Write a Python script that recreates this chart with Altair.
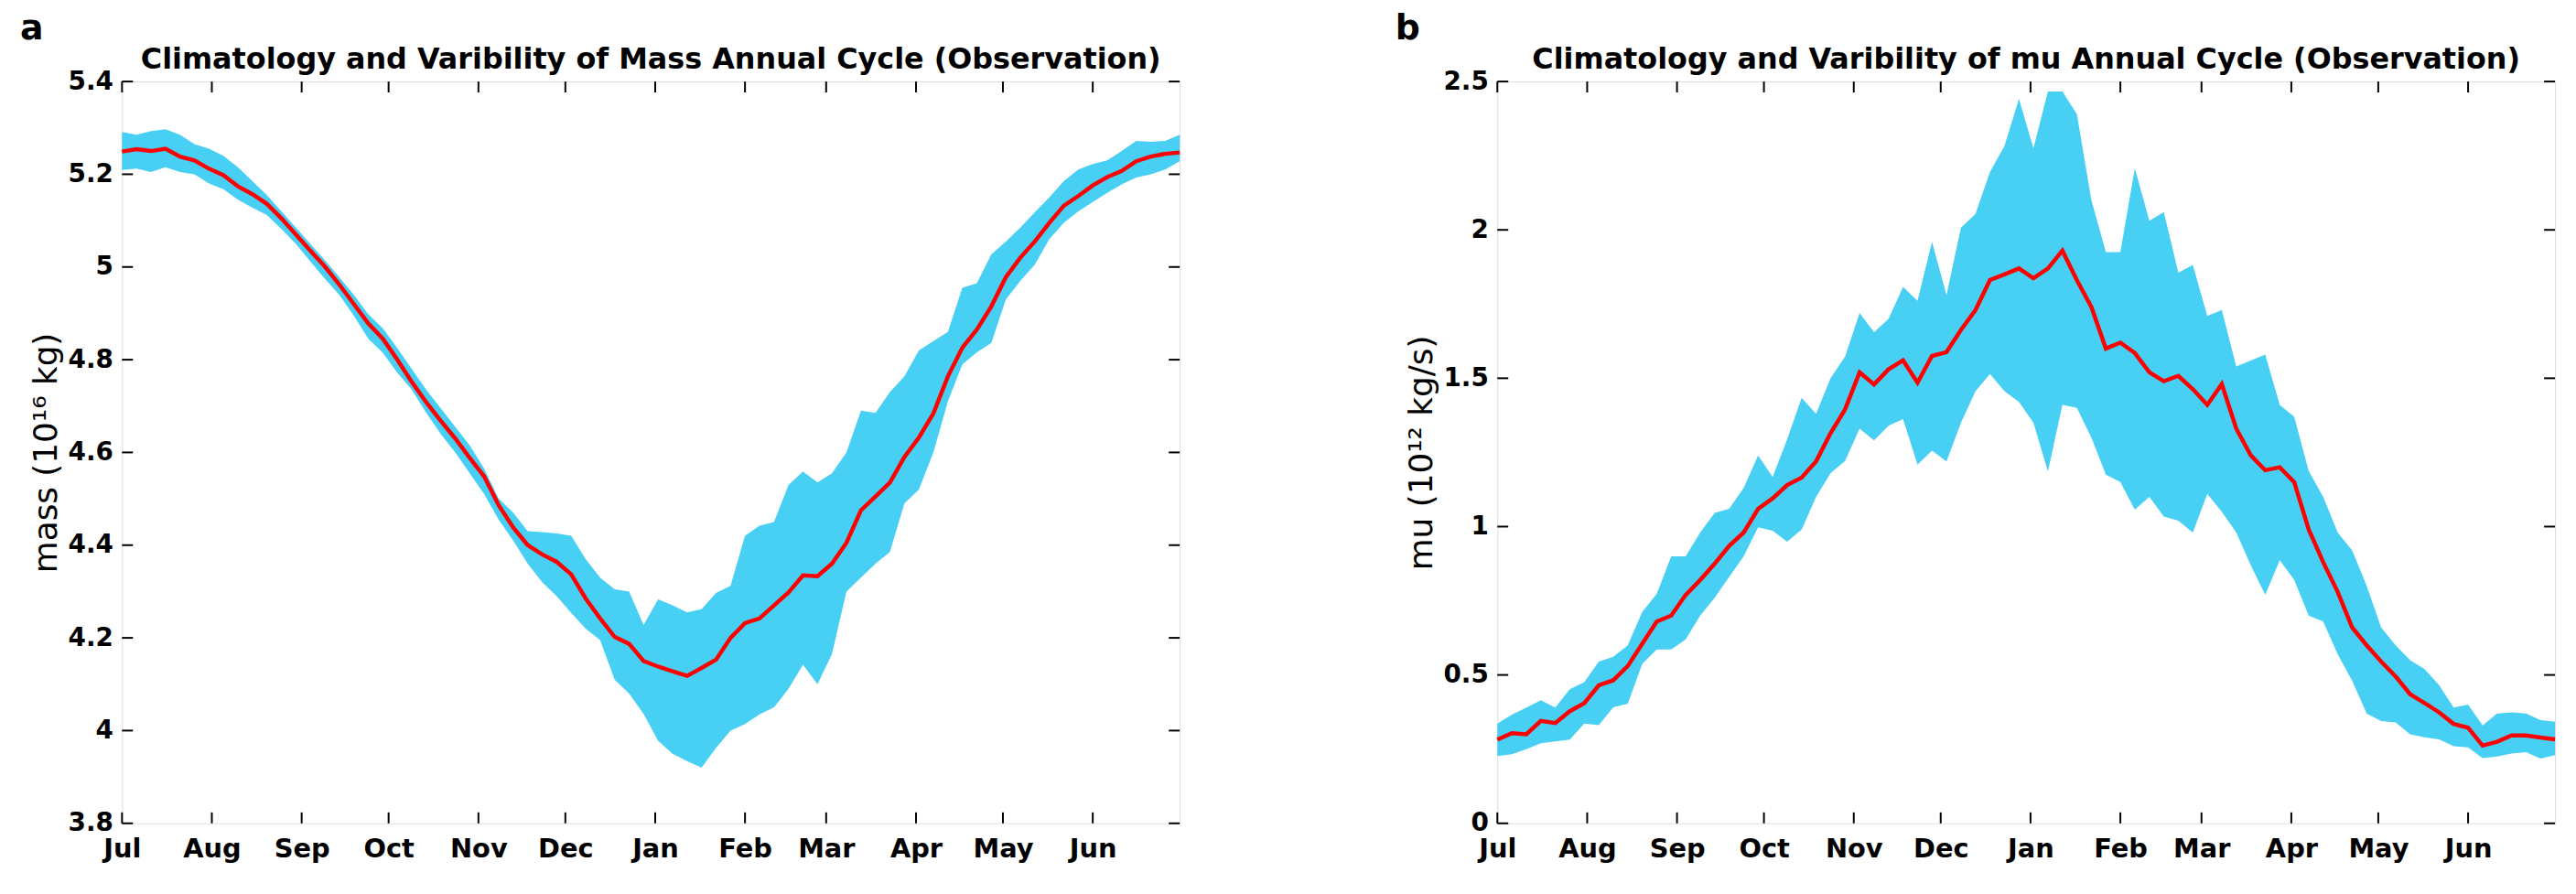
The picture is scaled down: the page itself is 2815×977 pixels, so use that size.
import altair as alt
import pandas as pd

# ---------------- data ----------------
DAYS = list(range(0, 366, 5))  # days since 1 Jul
MONTH_DAYS = [0, 31, 62, 92, 123, 153, 184, 215, 243, 274, 304, 335]
MONTH_NAMES = ["Jul", "Aug", "Sep", "Oct", "Nov", "Dec", "Jan", "Feb", "Mar", "Apr", "May", "Jun"]
MASS_TICKS = [3.8, 4.0, 4.2, 4.4, 4.6, 4.8, 5.0, 5.2, 5.4]
MU_TICKS = [0, 0.5, 1.0, 1.5, 2.0, 2.5]

MASS_MEAN = [
    5.249, 5.254, 5.250, 5.255, 5.238, 5.230, 5.212, 5.198, 5.174, 5.157,
    5.136, 5.105, 5.070, 5.035, 5.001, 4.962, 4.920, 4.878, 4.845, 4.800,
    4.752, 4.708, 4.668, 4.630, 4.588, 4.548, 4.486, 4.438, 4.400, 4.380,
    4.364, 4.337, 4.285, 4.242, 4.202, 4.187, 4.150, 4.138, 4.128, 4.118,
    4.135, 4.153, 4.200, 4.232, 4.242, 4.270, 4.298, 4.335, 4.333, 4.360,
    4.405, 4.475, 4.505, 4.535, 4.590, 4.632, 4.684, 4.764, 4.826, 4.865,
    4.915, 4.978, 5.020, 5.055, 5.095, 5.132, 5.153, 5.176, 5.194, 5.207,
    5.228, 5.238, 5.244, 5.247,
]
MASS_UPPER = [
    5.291, 5.285, 5.293, 5.297, 5.285, 5.265, 5.255, 5.240, 5.215, 5.185,
    5.155, 5.120, 5.085, 5.050, 5.015, 4.978, 4.940, 4.898, 4.868, 4.825,
    4.780, 4.735, 4.695, 4.655, 4.615, 4.565, 4.500, 4.470, 4.430, 4.428,
    4.425, 4.420, 4.370, 4.330, 4.305, 4.300, 4.228, 4.283, 4.270, 4.255,
    4.262, 4.297, 4.312, 4.420, 4.442, 4.450, 4.530, 4.559, 4.535, 4.555,
    4.600, 4.690, 4.685, 4.730, 4.764, 4.820, 4.840, 4.860, 4.955, 4.965,
    5.027, 5.055, 5.085, 5.118, 5.150, 5.185, 5.210, 5.222, 5.230, 5.250,
    5.272, 5.270, 5.272, 5.285,
]
MASS_LOWER = [
    5.209, 5.212, 5.205, 5.215, 5.205, 5.200, 5.180, 5.168, 5.145, 5.128,
    5.112, 5.082, 5.050, 5.012, 4.975, 4.940, 4.895, 4.845, 4.815, 4.772,
    4.735, 4.685, 4.640, 4.600, 4.555, 4.510, 4.455, 4.410, 4.360, 4.320,
    4.290, 4.254, 4.220, 4.195, 4.110, 4.080, 4.036, 3.978, 3.950, 3.934,
    3.920, 3.963, 4.000, 4.014, 4.035, 4.050, 4.090, 4.142, 4.100, 4.165,
    4.300, 4.330, 4.360, 4.385, 4.490, 4.520, 4.600, 4.710, 4.790, 4.816,
    4.836, 4.930, 4.970, 5.005, 5.060, 5.095, 5.120, 5.140, 5.160, 5.178,
    5.193, 5.200, 5.210, 5.228,
]

MU_MEAN = [
    0.282, 0.304, 0.300, 0.345, 0.338, 0.378, 0.405, 0.465, 0.482, 0.530,
    0.605, 0.680, 0.700, 0.770, 0.820, 0.875, 0.935, 0.980, 1.060, 1.095,
    1.140, 1.165, 1.220, 1.315, 1.395, 1.520, 1.479, 1.530, 1.560, 1.485,
    1.575, 1.588, 1.663, 1.730, 1.831, 1.850, 1.870, 1.837, 1.870, 1.930,
    1.830, 1.740, 1.600, 1.620, 1.585, 1.520, 1.490, 1.508, 1.463, 1.410,
    1.480, 1.330, 1.240, 1.190, 1.200, 1.150, 0.990, 0.880, 0.780, 0.660,
    0.600, 0.545, 0.495, 0.435, 0.405, 0.374, 0.335, 0.322, 0.262, 0.275,
    0.296, 0.296, 0.289, 0.283,
]
MU_UPPER = [
    0.336, 0.366, 0.390, 0.415, 0.390, 0.452, 0.476, 0.545, 0.561, 0.600,
    0.712, 0.773, 0.900, 0.900, 0.980, 1.046, 1.060, 1.130, 1.240, 1.167,
    1.294, 1.434, 1.380, 1.500, 1.573, 1.720, 1.655, 1.700, 1.808, 1.761,
    1.960, 1.780, 2.008, 2.054, 2.195, 2.283, 2.442, 2.275, 2.466, 2.466,
    2.390, 2.100, 1.925, 1.925, 2.207, 2.031, 2.060, 1.856, 1.882, 1.710,
    1.730, 1.540, 1.560, 1.580, 1.410, 1.370, 1.187, 1.100, 0.980, 0.920,
    0.800, 0.660, 0.600, 0.550, 0.520, 0.466, 0.390, 0.400, 0.330, 0.370,
    0.374, 0.370, 0.348, 0.342,
]
MU_LOWER = [
    0.227, 0.233, 0.250, 0.270, 0.276, 0.282, 0.336, 0.331, 0.391, 0.403,
    0.537, 0.586, 0.586, 0.620, 0.700, 0.760, 0.830, 0.900, 0.998, 0.986,
    0.949, 0.990, 1.100, 1.180, 1.221, 1.330, 1.291, 1.340, 1.362, 1.209,
    1.256, 1.220, 1.350, 1.456, 1.514, 1.456, 1.420, 1.350, 1.186, 1.410,
    1.400, 1.300, 1.175, 1.150, 1.057, 1.100, 1.034, 1.020, 0.980, 1.110,
    1.050, 0.980, 0.870, 0.770, 0.887, 0.820, 0.700, 0.680, 0.570, 0.480,
    0.370, 0.345, 0.340, 0.300, 0.290, 0.283, 0.260, 0.256, 0.220, 0.225,
    0.235, 0.240, 0.218, 0.230,
]

TITLE_A = "Climatology and Varibility of Mass Annual Cycle (Observation)"
TITLE_B = "Climatology and Varibility of mu Annual Cycle (Observation)"
YTITLE_A = "mass (10\u00b9\u2076 kg)"
YTITLE_B = "mu (10\u00b9\u00b2 kg/s)"

# ---------------- style ----------------
W, H = 1162, 815
TICK = 12
FONT = "DejaVu Sans"
CYAN = "#48D0F4"
RED = "#FF0000"

label_expr = (
    "[" + ",".join("'%s'" % m for m in MONTH_NAMES) + "][indexof(["
    + ",".join(str(d) for d in MONTH_DAYS) + "], datum.value)]"
)


def panel(mean, upper, lower, ticks, domain, ytitle, title, letter):
    df = pd.DataFrame({"day": DAYS, "mean": mean, "upper": upper, "lower": lower})
    xscale = alt.Scale(domain=[0, 365], nice=False, zero=False)
    yscale = alt.Scale(domain=domain, nice=False, zero=False)
    xaxis = alt.Axis(
        values=MONTH_DAYS, labelExpr=label_expr, title=None, ticks=False,
        domain=False, grid=False, labelFlush=False, labelOverlap=False,
        labelPadding=14, labelFontSize=29, labelFont=FONT,
        labelFontWeight="bold", labelColor="black",
    )
    yaxis = alt.Axis(
        values=ticks, format="~g", title=ytitle, ticks=False, domain=False,
        grid=False, labelPadding=10, labelFontSize=28, labelFont=FONT,
        labelFontWeight="bold", labelColor="black", labelOverlap=False,
        titleFont=FONT, titleFontSize=36, titleFontWeight="normal",
        titleColor="black", titlePadding=5,
    )
    band = alt.Chart(df).mark_area(color=CYAN, opacity=1).encode(
        x=alt.X("day:Q", scale=xscale, axis=xaxis),
        y=alt.Y("upper:Q", scale=yscale, axis=yaxis),
        y2="lower:Q",
    )
    line = alt.Chart(df).mark_line(color=RED, strokeWidth=4.5).encode(
        x="day:Q", y="mean:Q"
    )
    xt = pd.DataFrame({"day": MONTH_DAYS})
    yt = pd.DataFrame({"v": ticks})
    rule = dict(color="black", strokeWidth=2)
    bottom = alt.Chart(xt).mark_rule(**rule).encode(
        x="day:Q", y=alt.value(H), y2=alt.value(H - TICK))
    top = alt.Chart(xt).mark_rule(**rule).encode(
        x="day:Q", y=alt.value(0), y2=alt.value(TICK))
    left = alt.Chart(yt).mark_rule(**rule).encode(
        y="v:Q", x=alt.value(0), x2=alt.value(TICK))
    right = alt.Chart(yt).mark_rule(**rule).encode(
        y="v:Q", x=alt.value(W), x2=alt.value(W - TICK))
    ttl = alt.Chart(pd.DataFrame({"t": [title]})).mark_text(
        font=FONT, fontSize=32, fontWeight="bold", align="center",
        baseline="alphabetic", color="black",
    ).encode(text="t:N", x=alt.value(W / 2), y=alt.value(-14))
    let = alt.Chart(pd.DataFrame({"t": [letter]})).mark_text(
        font=FONT, fontSize=38, fontWeight="bold", align="left",
        baseline="alphabetic", color="black",
    ).encode(text="t:N", x=alt.value(-112), y=alt.value(-46))
    return alt.layer(band, line, bottom, top, left, right, ttl, let).properties(
        width=W, height=H)


pa = panel(MASS_MEAN, MASS_UPPER, MASS_LOWER, MASS_TICKS, [3.8, 5.4],
           YTITLE_A, TITLE_A, "a")
pb = panel(MU_MEAN, MU_UPPER, MU_LOWER, MU_TICKS, [0, 2.5],
           YTITLE_B, TITLE_B, "b")

chart = (
    alt.hconcat(pa, pb, spacing=226)
    .properties(padding={"left": 13, "top": 2, "right": 5, "bottom": 5})
    .configure_view(stroke="black", strokeWidth=2)
    .configure(background="white")
)

chart.save("out.html", embed_options={"renderer": "svg", "actions": False})
